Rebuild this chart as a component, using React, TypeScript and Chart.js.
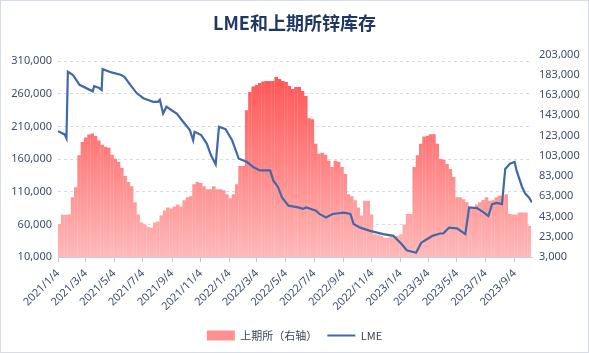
import React, { useEffect, useRef } from "react";
import { Chart, registerables } from "chart.js";

Chart.register(...registerables);

// ---------- data ----------
const chartTitle = "LME和上期所锌库存";
const shfeLabel = "上期所（右轴）";
const lmeLabel = "LME";

const axisStartDate = "2021/1/4";
const axisEndDate = "2023/10/11";

const xTickLabels = [
  "2021/1/4", "2021/3/4", "2021/5/4", "2021/7/4", "2021/9/4", "2021/11/4",
  "2022/1/4", "2022/3/4", "2022/5/4", "2022/7/4", "2022/9/4", "2022/11/4",
  "2023/1/4", "2023/3/4", "2023/5/4", "2023/7/4", "2023/9/4",
];

const leftTicks = [10000, 60000, 110000, 160000, 210000, 260000, 310000];
const rightTicks = [3000, 23000, 43000, 63000, 83000, 103000, 123000, 143000, 163000, 183000, 203000];

// SHFE weekly zinc stocks (right axis), first week ending date below
const shfeFirstWeek = "2021/1/7";
const shfeWeekly = [
  35500, 44800, 44800, 45000, 62000, 72000, 103500, 116700, 121000, 124000,
  125000, 122500, 118000, 114000, 112000, 111000, 104000, 100000, 97000, 91000,
  83000, 77000, 73000, 57000, 45000, 37000, 35000, 33000, 32000, 37000,
  38000, 44000, 49000, 52000, 51000, 53000, 55000, 53000, 59000, 62000,
  63000, 75000, 77000, 76000, 73000, 70000, 70000, 73000, 70000, 70000,
  69000, 65000, 61000, 65000, 75000, 93000, 93000, 148000, 166000, 171500,
  173000, 175000, 176400, 177000, 177000, 177000, 180800, 179000, 177000, 176000,
  172000, 169000, 171000, 171000, 167000, 162000, 140000, 139000, 115000, 105000,
  106000, 104000, 98000, 92000, 98000, 97000, 92000, 85000, 65000, 63000,
  59000, 52000, 44000, 58700, 58700, 45000, 25600, 25000, 24000, 22000,
  22000, 23000, 23000, 24000, 25600, 35000, 45500, 45500, 92000, 103500,
  115000, 122000, 122700, 124400, 124400, 115000, 100000, 99000, 95000, 90000,
  82000, 62000, 62000, 60000, 57000, 52000, 52000, 55000, 57000, 59400,
  62000, 58700, 59000, 62000, 63700, 63000, 65000, 45500, 45000, 45000,
  47000, 47000, 47000, 33800,
];

// LME zinc stocks (left axis)
const lmeDates = [
  "2021/1/4", "2021/1/18", "2021/1/22", "2021/1/25", "2021/2/5", "2021/2/19", "2021/3/19", "2021/3/22",
  "2021/4/2", "2021/4/7", "2021/4/9", "2021/4/28", "2021/5/19", "2021/5/26", "2021/6/7", "2021/6/21",
  "2021/7/5", "2021/7/26", "2021/8/5", "2021/8/9", "2021/8/16", "2021/8/23", "2021/9/3", "2021/9/14",
  "2021/9/28", "2021/10/12", "2021/10/19", "2021/10/22", "2021/11/5", "2021/11/17", "2021/11/26", "2021/12/6",
  "2021/12/13", "2021/12/27", "2022/1/10", "2022/1/24", "2022/2/3", "2022/2/11", "2022/2/24", "2022/3/10",
  "2022/4/1", "2022/4/8", "2022/4/18", "2022/4/26", "2022/5/10", "2022/5/31", "2022/6/10", "2022/6/17",
  "2022/7/8", "2022/7/15", "2022/7/29", "2022/8/12", "2022/9/5", "2022/9/19", "2022/9/26", "2022/10/10",
  "2022/10/31", "2022/11/28", "2022/12/20", "2023/1/6", "2023/1/17", "2023/2/6", "2023/2/17", "2023/3/1",
  "2023/3/13", "2023/3/29", "2023/4/5", "2023/4/17", "2023/5/4", "2023/5/22", "2023/5/30", "2023/6/16",
  "2023/6/30", "2023/7/10", "2023/7/18", "2023/7/28", "2023/8/8", "2023/8/15", "2023/8/25", "2023/9/4",
  "2023/9/8", "2023/9/20", "2023/9/27", "2023/10/4", "2023/10/11",
];
const lmeValues = [
  203000, 198000, 192000, 294000, 289000, 274000, 264000, 272000,
  269000, 266000, 298000, 293000, 289000, 286000, 274000, 261000,
  253500, 248000, 248000, 251000, 230000, 240500, 235000, 230000,
  217000, 204500, 189000, 202000, 197000, 184000, 166000, 152000,
  209600, 206000, 189000, 161000, 158000, 155600, 148000, 142800,
  142800, 127000, 117000, 101600, 88700, 86000, 84000, 86000,
  81000, 76000, 70700, 76000, 78000, 76000, 60500, 55000,
  50000, 45000, 42400, 30000, 20300, 16600, 32000, 37300,
  42400, 46000, 46000, 55000, 54000, 45000, 86000, 85000,
  78400, 73000, 91000, 93000, 91000, 145000, 153000, 155600,
  142800, 117000, 106800, 101600, 93800,
];

// ---------- helpers ----------
const dayOf = (s: string) => {
  const [y, m, d] = s.split("/").map(Number);
  const [y0, m0, d0] = axisStartDate.split("/").map(Number);
  return Math.round((Date.UTC(y, m - 1, d) - Date.UTC(y0, m0 - 1, d0)) / 86400000);
};
const fmt = (v: number) => Number(v).toLocaleString("en-US");

const TICK_FONT = "'Noto Sans', 'Noto Sans CJK SC', sans-serif";
const CJK_FONT = "'Noto Sans CJK SC', 'Noto Sans', sans-serif";
const TICK_COLOR = "#3F4D6A";
const LME_COLOR = "#4169A8";

export default function App() {
  const canvasRef = useRef<HTMLCanvasElement | null>(null);

  useEffect(() => {
    document.body.style.margin = "0";
    const canvas = canvasRef.current;
    if (!canvas) return;

    const firstDay = dayOf(shfeFirstWeek);
    const shfeData = shfeWeekly.map((v, i) => ({ x: firstDay + 7 * i, y: v }));
    const lmeData = lmeDates.map((d, i) => ({ x: dayOf(d), y: lmeValues[i] }));
    const tickDays = xTickLabels.map(dayOf);
    const tickMap = new Map<number, string>();
    tickDays.forEach((d, i) => tickMap.set(d, xTickLabels[i]));

    let cached: any = null;
    let cachedKey = "";
    const barFill = (ctx: any) => {
      const chart = ctx.chart;
      const area = chart.chartArea;
      if (!area) return "#FF8A8A";
      const key = `${area.top}-${area.bottom}`;
      if (!cached || cachedKey !== key) {
        const g = chart.ctx.createLinearGradient(0, area.top, 0, area.bottom);
        g.addColorStop(0, "#FF4B4B");
        g.addColorStop(0.5, "#FF8080");
        g.addColorStop(1, "#FFB9B9");
        cached = g;
        cachedKey = key;
      }
      return cached;
    };

    const chart = new Chart(canvas, {
      type: "bar",
      data: {
        datasets: [
          {
            type: "bar",
            label: shfeLabel,
            data: shfeData as any,
            yAxisID: "y1",
            xAxisID: "x",
            backgroundColor: barFill as any,
            borderWidth: 0,
            barPercentage: 1.08,
            categoryPercentage: 1,
            order: 2,
          },
          {
            type: "line",
            label: lmeLabel,
            data: lmeData as any,
            yAxisID: "y",
            xAxisID: "x",
            borderColor: LME_COLOR,
            backgroundColor: LME_COLOR,
            borderWidth: 2.2,
            pointRadius: 0,
            tension: 0,
            fill: false,
            order: 1,
          },
        ],
      },
      options: {
        responsive: false,
        animation: false,
        layout: { padding: { left: 0, right: 0, top: 0, bottom: 2 } },
        plugins: {
          title: {
            display: true,
            text: chartTitle,
            color: "#203864",
            font: { family: CJK_FONT, size: 18, weight: "bold" },
            padding: { top: 12, bottom: 21 },
          },
          legend: {
            position: "bottom",
            labels: {
              usePointStyle: true,
              pointStyleWidth: 28,
              boxHeight: 10,
              padding: 10,
              color: "#3A4256",
              font: { family: CJK_FONT, size: 11 },
              generateLabels: () => [
                {
                  text: shfeLabel,
                  fillStyle: "#FF9090",
                  strokeStyle: "rgba(0,0,0,0)",
                  lineWidth: 0,
                  pointStyle: "rect",
                  datasetIndex: 0,
                  hidden: false,
                  fontColor: "#3A4256",
                } as any,
                {
                  text: lmeLabel,
                  fillStyle: LME_COLOR,
                  strokeStyle: LME_COLOR,
                  lineWidth: 2,
                  pointStyle: "line",
                  datasetIndex: 1,
                  hidden: false,
                  fontColor: "#3A4256",
                } as any,
              ],
            },
          },
          tooltip: { enabled: false },
        },
        scales: {
          x: {
            type: "linear",
            min: 0,
            max: dayOf(axisEndDate),
            offset: false,
            grid: {
              display: true,
              drawOnChartArea: false,
              drawTicks: true,
              tickLength: 5,
              color: "#BFC7D5",
              offset: false,
            },
            border: { display: true, color: "#C9D0DC" },
            ticks: {
              autoSkip: false,
              minRotation: 45,
              maxRotation: 45,
              padding: 5,
              color: TICK_COLOR,
              font: { family: TICK_FONT, size: 11 },
              callback: (v: any) => tickMap.get(Number(v)) ?? "",
            },
            afterBuildTicks: (s: any) => {
              s.ticks = tickDays.map((d) => ({ value: d }));
            },
            afterFit: (s: any) => {
              s.height = 63;
            },
          },
          y: {
            type: "linear",
            position: "left",
            min: 10000,
            max: 320345,
            grid: { color: "#D3DCEB", drawTicks: false, lineWidth: 1 },
            border: { display: false, dash: [3, 3] },
            ticks: {
              padding: 6,
              color: TICK_COLOR,
              font: { family: TICK_FONT, size: 11 },
              callback: (v: any) => fmt(v),
            },
            afterBuildTicks: (s: any) => {
              s.ticks = leftTicks.map((v) => ({ value: v }));
            },
            afterFit: (s: any) => {
              s.width = 58;
            },
          },
          y1: {
            type: "linear",
            position: "right",
            min: 3000,
            max: 203000,
            grid: { display: false, drawTicks: false },
            border: { display: false },
            ticks: {
              padding: 7,
              color: TICK_COLOR,
              font: { family: TICK_FONT, size: 11 },
              callback: (v: any) => fmt(v),
            },
            afterBuildTicks: (s: any) => {
              s.ticks = rightTicks.map((v) => ({ value: v }));
            },
            afterFit: (s: any) => {
              s.width = 57;
            },
          },
        },
      } as any,
    });

    return () => chart.destroy();
  }, []);

  return (
    <div style={{ position: "relative", width: 589, height: 353, background: "#fff" }}>
      <canvas ref={canvasRef} width={589} height={353} style={{ display: "block", width: 589, height: 353 }} />
      <div
        style={{
          position: "absolute",
          left: 0,
          top: 0,
          width: 589,
          height: 353,
          boxSizing: "border-box",
          border: "1px solid #D5DDE8",
          pointerEvents: "none",
        }}
      />
    </div>
  );
}
